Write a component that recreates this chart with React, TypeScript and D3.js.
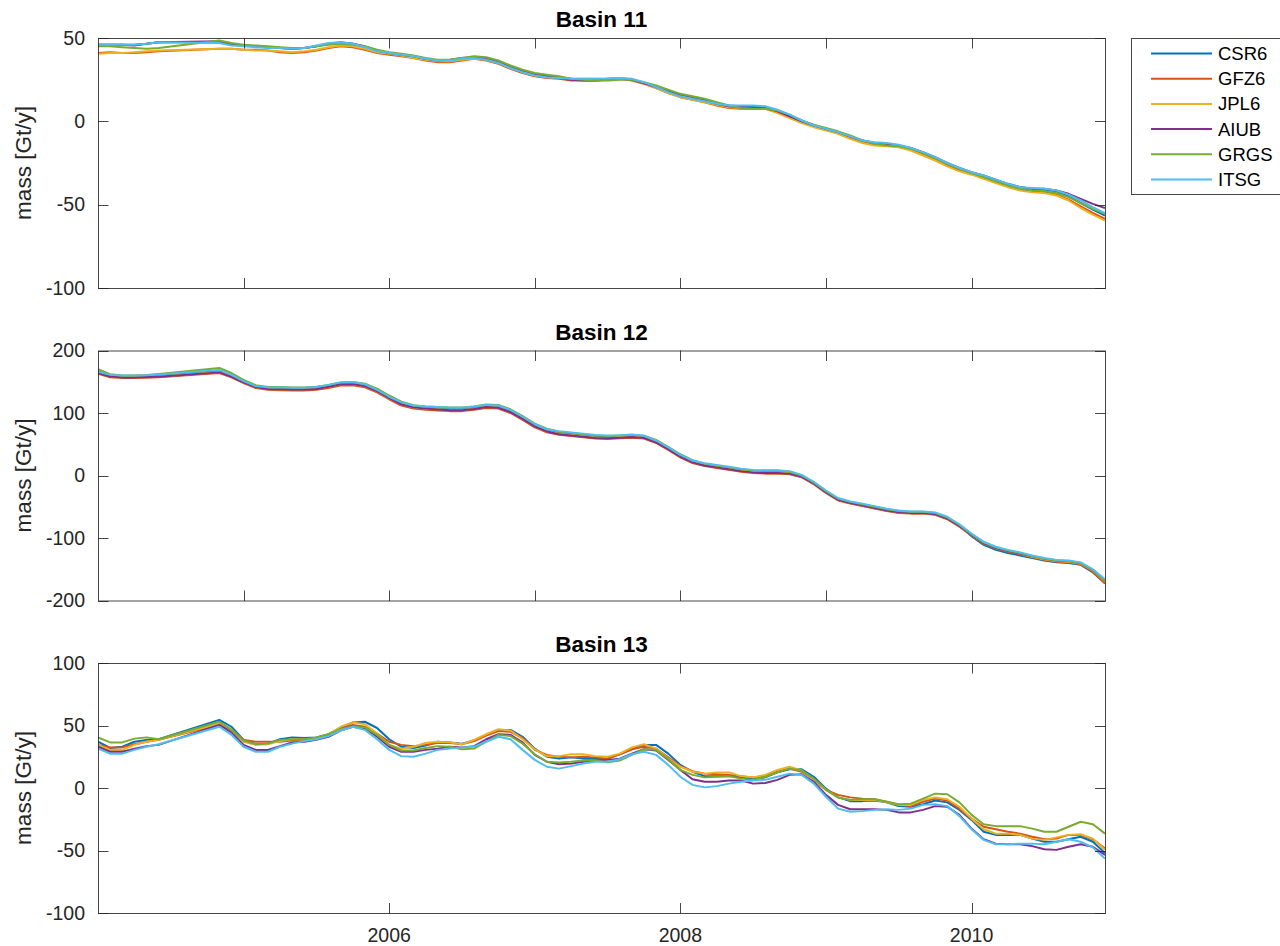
import React from "react";
import * as d3 from "d3";

// month offsets from Jan 2004 (months 6-9 of 2004 are missing)
const MONTHS = [0,1,2,3,4,5,10,11,12,13,14,15,16,17,18,19,20,21,22,23,24,25,26,27,28,29,30,31,32,33,34,35,36,37,38,39,40,41,42,43,44,45,46,47,48,49,50,51,52,53,54,55,56,57,58,59,60,61,62,63,64,65,66,67,68,69,70,71,72,73,74,75,76,77,78,79,80,81,82,83];

const SERIES_NAMES = ["CSR6", "GFZ6", "JPL6", "AIUB", "GRGS", "ITSG"];
const COLORS = ["#0072BD", "#D95319", "#EDB120", "#7E2F8E", "#77AC30", "#4DBEEE"];

// ---- Basin 11 ----
const B11_CSR6 = [46,46,46,46,46.5,47.5, 47.5,46,45.5,45,44.5,44,43.5,44,45,46.5, 47,46.5,44.5,42.5,41,40,39,37.5,36.5,36.5, 37.5,38.5,37.5,35.5,32.5,30,28,27,26.5,25.5, 25,25,25.5,26,25,23,20.5,18,15.5,14, 12.5,10.5,9.5,9,9,8.5,6.5,3.5,0.5,-2.5, -4.5,-6.5,-9,-11.5,-13,-13.5,-14.5,-16.5,-19,-22, -25.5,-28.5,-31,-33,-35.5,-38,-39.5,-40.5,-41,-42, -45,-49,-53,-56.5];
const B11_GFZ6 = [41,41.5,41,41,41.5,42, 43.5,43.5,43,43,42.5,41.5,41,41.5,42.5,44, 45,44.5,43,41,40,39,38,36.5,35.5,35.5, 36.5,37.5,36.5,34.5,31.5,29,27,26,25.5,24.5, 24.5,24.5,25,25.5,24.5,22.5,20,17,14.5,13, 11.5,9.5,8,7.5,7.5,7.5,5.5,2.5,-0.5,-3, -5,-7,-10,-12.5,-14,-14.5,-15,-17,-20,-23, -26.5,-29.5,-31.5,-34,-36.5,-39,-41,-42,-42.5,-44, -47,-51,-55,-58.5];
const B11_JPL6 = [40.5,41,41,41.5,42,42.5, 43.5,43.5,43,42.5,42.5,42,41.5,42,43,44.5, 45.5,45,43.5,41.5,40.5,39.5,38,37,36,36, 37,37.5,37,35,32,29.5,27.5,26.5,26,25.5, 25.5,25.5,25.5,26,25,23,20,17,14.5,13, 11.5,10,8.5,8,8,7.5,5,2,-1,-3.5, -5.5,-7.5,-10.5,-13,-14.5,-15,-15.5,-17.5,-20.5,-23.5, -27,-30,-32,-34.5,-37,-39.5,-41.5,-42.5,-43,-44.5, -47.5,-52,-56,-59.5];
const B11_AIUB = [46,46,46,45.5,46.5,47.5, 48,46.5,45.5,45,44.5,44,43.5,44,45,46.5, 47.5,46.5,45,42.5,41,40,39,37.5,36.5,37, 38,38.5,37.5,35.5,32.5,30,28,27,26,25, 24.5,24.5,25,25.5,25,23,20.5,18,15.5,14, 12.5,10.5,9,8.5,8,8,6,3,0,-2.5, -4.5,-6.5,-9,-11.5,-13,-13.5,-14.5,-16,-18.5,-21.5, -25,-28,-30.5,-32.5,-35,-37.5,-39.5,-40.5,-40.5,-41.5, -43.5,-46.5,-49.5,-52];
const B11_GRGS = [45,45,44.5,44,43.5,44, 48.5,47,46,45.5,45,44.5,44,44,45,46, 46.5,46,45,43,41.5,40.5,39.5,38,37,37, 38,39,38.5,36.5,33.5,31,29,28,27,25.5, 25,24.5,24.5,25,25,23.5,21.5,19,16.5,15, 13.5,11.5,9.5,8,7.5,7.5,6.5,4,0.5,-2, -4,-6,-8.5,-11.5,-13.5,-14.5,-15,-16.5,-19,-22, -25.5,-28.5,-31,-33.5,-36,-38.5,-40.5,-41.5,-42,-43, -45.5,-49,-52.5,-55.5];
const B11_ITSG = [46,46,46,46,46.5,47.5, 47,45.5,45,44.5,44,44,43.5,44,45.5,47, 47.5,46.5,44.5,42,41,40,39,37.5,36.5,36.5, 37.5,38,37,35,32,29.5,27.5,26.5,26,25.5, 25.5,25.5,25.5,26,25.5,23.5,20.5,17.5,15,13.5, 12,10.5,9.5,9.5,9.5,9,7,4,0.5,-2.5, -4.5,-6.5,-9,-11.5,-12.5,-13,-14,-16,-18.5,-21.5, -25,-28,-30.5,-32.5,-35,-37.5,-39.5,-40,-40.5,-41.5, -44,-47.5,-51.5,-55];

// ---- Basin 12 ----
const B12_CSR6 = [166,161,159,159,159.5,160, 167.5,160,151,143,140,140,140,140,141,144, 148,148.5,145,137,126,116,111,109,108,107, 107,109,112,111,104,93,81,73,69,67, 65,63,62,63,64,62,55,44,32,23, 18,15,12,9,7,6.5,6.5,5,-1,-12, -26,-38,-43,-47,-51,-55,-58,-59,-59,-61, -68,-80,-97,-111,-119,-124,-128,-132,-136,-139, -140,-143,-155,-172];
const B12_GFZ6 = [163,157,156,156,156.5,157, 164,157,148,140,137,136.5,136,136,137,140, 144,144.5,141,133,122,112,107,105,104,103, 103,105,108,107,100,89,77,69,65,63, 61,59,58.5,59.5,60.5,59,52,41,29,20, 15,12,9,6,4,3,3,2,-3,-14, -28,-40,-45,-49,-53,-57,-60,-61,-61,-63, -70,-82,-96,-109,-117,-122,-126,-131,-135,-138, -139,-142,-154,-173];
const B12_JPL6 = [165,159,157.5,157.5,158,158.5, 165.5,158.5,149.5,141.5,138.5,138,138,138,139,142, 146,146.5,143,135,124,114,109,107,106,105, 105,107,110,109,102,91,79,71,67,65, 63,61,60.5,61.5,62.5,60.5,54,43,31,22, 17,14,11,8,6,5,5,4,-2,-13, -27,-39,-44,-48,-52,-56,-59,-60,-60,-62, -69,-81,-95,-108,-116,-121,-125,-130,-134,-137, -138,-141,-152,-169];
const B12_AIUB = [164,158.5,157,157,157.5,158, 165,158,149,141.5,138.5,138,137.5,137.5,138.5,142, 146,146.5,143,135,124,114,109,107,105.5,104.5, 104.5,106.5,109.5,108.5,101.5,90.5,78.5,70.5,66,64, 62,60,59.5,60.5,61.5,60,53,42,30,21, 16,13,10,7,5,4,4,3,-2,-13, -27,-39,-44,-48,-52,-56,-59,-60,-60,-62, -69,-81,-95,-108,-116,-121,-125,-129,-133,-136, -137,-140,-151,-168];
const B12_GRGS = [170,162,160,160,161,162.5, 172,164,153,144.5,141.5,141.5,141,141,142,145, 149,149.5,147,139,128,118,112.5,110.5,109.5,109, 109,110.5,113.5,113,106,95,83,75,70,68, 66,64,63,64,65,63.5,57,46,34,24.5, 19,16,13,10,8,7.5,7.5,6,0,-11, -25,-37,-42,-46,-50,-54,-57,-58,-58,-60, -67,-79,-94,-107,-115,-120,-124,-129,-133,-136, -137,-140,-151,-169];
const B12_ITSG = [166,161,160,160,160.5,161.5, 169,161,151,143,141,141,140.5,140.5,141.5,145, 149,149.5,146,137,126,117,112,110.5,109.5,108.5, 108.5,110.5,113,112,105,94,82,74,71,69, 67,65,64,64.5,65.5,63.5,56,45,33,24, 19.5,17,14,11,9,8.5,8.5,7,1,-10, -24,-36,-41.5,-45,-49,-53,-56,-57.5,-57.5,-59, -66,-78,-93,-106,-114,-119,-123,-128,-132,-135, -136,-139,-150,-166];

// ---- Basin 13 ----
const B13_CSR6 = [37,32,33,37,38.5,39, 54.5,49,38.5,35,35.5,39,40.5,40,40.5,43, 48,52.5,53,48,39,33,32,34,37,36.5, 35.5,38,42.5,46,46.5,41,31.5,25,23.5,24.5, 23.5,23.5,23.5,27,31,34.5,34.5,27.5,18.5,13, 9.5,9.5,9.5,8.5,7,8.5,12.5,15,15,9, -0.5,-7.5,-10.5,-10.5,-10,-11.5,-14.5,-15,-13,-10, -11.5,-17.5,-25.5,-35,-37.5,-37.5,-37.5,-40.5,-43,-43, -41,-39,-43,-52];
const B13_GFZ6 = [34.5,32.5,32.5,35,37,38.5, 50.5,46.5,38.5,37,37,37,38,38.5,39.5,42, 47,50.5,49,43.5,37,34.5,33.5,34.5,36,36, 35,37.5,42,45.5,45,40,30.5,26.5,25,24.5, 25,24.5,23.5,27,31,33,31.5,24.5,17.5,13.5, 11.5,11,10.5,9.5,8.5,9.5,13,15.5,13,7, -1.5,-5.5,-7.5,-8.5,-9,-11,-13.5,-14.5,-11,-8.5, -10,-16.5,-24.5,-31,-33,-35,-36.5,-39,-41,-40.5, -37.5,-37.5,-41,-48.5];
const B13_JPL6 = [34.5,30.5,30.5,34.5,37,38.5, 51.5,47,37,34.5,35,37.5,39,39,39.5,43, 49,52.5,51,43.5,34.5,31.5,33,36,37,36.5, 35,38.5,43,47,46,39,31,25.5,25.5,27, 27,25.5,25,27.5,32.5,35,31.5,23.5,17,13, 11.5,12.5,12.5,9.5,8.5,10.5,14.5,17,14,7, -1.5,-7.5,-9.5,-9.5,-9.5,-11.5,-13.5,-13.5,-9.5,-7.5, -9,-15,-24.5,-33,-36.5,-36.5,-37.5,-40.5,-41.5,-39.5, -37.5,-37,-40.5,-49.5];
const B13_AIUB = [33,29,29,31.5,33.5,34.5, 50.5,44.5,34.5,30.5,30.5,33.5,36.5,37,38.5,41, 46,49,47.5,41,33,29,29,30.5,31.5,33, 32.5,33.5,39,43,42.5,36.5,26.5,21,19,19.5, 21,22,22.5,23.5,27.5,31,30,22.5,14.5,7, 5,5,6,6,3.5,4,6.5,10.5,11,5, -5.5,-13.5,-17,-17,-17,-17.5,-19.5,-19.5,-17.5,-14.5, -15,-21.5,-32.5,-41,-44.5,-45,-45,-46.5,-49,-49.5, -47,-45,-47,-53.5];
const B13_GRGS = [40.5,36.5,36.5,39.5,40.5,39, 53,46.5,38,35,35.5,38.5,39,39,40.5,43, 47,49,48.5,42.5,34.5,30,30,32,33.5,33, 31,31.5,37,42.5,41.5,35.5,27,21,20.5,21, 22,22,20.5,22,26.5,31,30.5,23,14.5,10.5, 8.5,9,9.5,7.5,6.5,9,12.5,15.5,14,7.5, -1.5,-7.5,-9.5,-9,-9,-11,-13,-12.5,-8.5,-4.5, -5,-11.5,-21.5,-29,-30.5,-30.5,-30.5,-32.5,-35,-35, -31,-27,-29,-36.5];
const B13_ITSG = [31.5,27.5,27.5,30.5,33,35, 49,42.5,33,29,29,33,35.5,37.5,39,41.5, 46,49,46.5,39,30.5,25.5,25,27.5,30.5,31.5, 32.5,33,37,41,39,30.5,22.5,17,15.5,17.5, 19.5,21,21,23,27,29,26.5,18.5,9,2.5, 0.5,1.5,3.5,5,6,6.5,9,11.5,10.5,3.5, -7,-16.5,-19,-18.5,-17.5,-17,-17.5,-16.5,-13.5,-13, -14.5,-22.5,-33,-41.5,-45,-45,-44.5,-44.5,-45,-43, -41,-43,-47.5,-56.5];

const TITLES = ["Basin 11", "Basin 12", "Basin 13"];
const Y_DOMAINS: [number, number][] = [[-100, 50], [-200, 200], [-100, 100]];
const Y_TICKS = [[-100, -50, 0, 50], [-200, -100, 0, 100, 200], [-100, -50, 0, 50, 100]];
const X_TICKS_YEARLY = [2005, 2006, 2007, 2008, 2009, 2010];
const X_TICKS_LABELED = [2006, 2008, 2010];
const Y_LABEL = "mass [Gt/y]";

const PANEL_SERIES = [
  [B11_CSR6, B11_GFZ6, B11_JPL6, B11_AIUB, B11_GRGS, B11_ITSG],
  [B12_CSR6, B12_GFZ6, B12_JPL6, B12_AIUB, B12_GRGS, B12_ITSG],
  [B13_CSR6, B13_GFZ6, B13_JPL6, B13_AIUB, B13_GRGS, B13_ITSG],
];

const FONT = "'Liberation Sans', Arial, Helvetica, sans-serif";
const AX = "#262626";

const LEFT = 98;
const RIGHT = 1105;
const TOPS = [38, 350.5, 663];
const PH = 250;

export default function App() {
  const x = d3.scaleLinear().domain([2004, 2004 + 83 / 12]).range([LEFT, RIGHT]);
  const years = MONTHS.map((m) => 2004 + m / 12);

  return (
    <svg
      width={1280}
      height={946}
      style={{ position: "absolute", left: 0, top: 0, background: "#fff" }}
      fontFamily={FONT}
    >
      <rect x={0} y={0} width={1280} height={946} fill="#fff" />
      {TITLES.map((title, p) => {
        const top = TOPS[p];
        const y = d3.scaleLinear().domain(Y_DOMAINS[p]).range([top + PH, top]);
        const line = d3
          .line<number>()
          .x((_, i) => x(years[i]))
          .y((v) => y(v));
        const xTicks = p === 2 ? X_TICKS_LABELED : X_TICKS_YEARLY;
        const clipId = `clip${p}`;
        return (
          <g key={title}>
            <defs>
              <clipPath id={clipId}>
                <rect x={LEFT} y={top} width={RIGHT - LEFT} height={PH} />
              </clipPath>
            </defs>
            <g clipPath={`url(#${clipId})`}>
              {PANEL_SERIES[p].map((vals, s) => (
                <path
                  key={s}
                  d={line(vals) || ""}
                  fill="none"
                  stroke={COLORS[s]}
                  strokeWidth={2}
                  strokeLinejoin="round"
                />
              ))}
            </g>
            {/* box */}
            <rect
              x={LEFT + 0.5}
              y={top + 0.5}
              width={RIGHT - LEFT}
              height={PH}
              fill="none"
              stroke={AX}
              strokeWidth={1}
              opacity={0.85}
            />
            {/* y ticks */}
            {Y_TICKS[p].map((t) => {
              const yy = Math.round(y(t)) + 0.5;
              return (
                <g key={"y" + t}>
                  <line x1={LEFT} x2={LEFT + 10.5} y1={yy} y2={yy} stroke={AX} opacity={0.85} />
                  <line x1={RIGHT - 10} x2={RIGHT + 0.5} y1={yy} y2={yy} stroke={AX} opacity={0.85} />
                  <text
                    x={LEFT - 13}
                    y={y(t)}
                    dy="0.35em"
                    textAnchor="end"
                    fontSize={19.5}
                    fill={AX}
                  >
                    {t}
                  </text>
                </g>
              );
            })}
            {/* x ticks */}
            {xTicks.map((t) => {
              const xx = Math.round(x(t)) + 0.5;
              return (
                <g key={"x" + t}>
                  <line x1={xx} x2={xx} y1={top + PH + 0.5} y2={top + PH - 10} stroke={AX} opacity={0.85} />
                  <line x1={xx} x2={xx} y1={top} y2={top + 10.5} stroke={AX} opacity={0.85} />
                  {p === 2 && (
                    <text x={x(t)} y={942} textAnchor="middle" fontSize={19.5} fill={AX}>
                      {t}
                    </text>
                  )}
                </g>
              );
            })}
            {/* title */}
            <text
              x={(LEFT + RIGHT) / 2}
              y={top - 11}
              textAnchor="middle"
              fontSize={22.5}
              fontWeight="bold"
              fill="#000"
            >
              {title}
            </text>
            {/* y label */}
            <text
              transform={`translate(31,${top + PH / 2}) rotate(-90)`}
              textAnchor="middle"
              fontSize={22.5}
              fill={AX}
            >
              {Y_LABEL}
            </text>
          </g>
        );
      })}
      {/* legend */}
      <g>
        <rect x={1131.5} y={38.5} width={149} height={156} fill="#fff" stroke={AX} strokeWidth={1} opacity={0.85} />
        {SERIES_NAMES.map((name, s) => {
          const yy = 53.5 + s * 25.2;
          return (
            <g key={name}>
              <line x1={1151} x2={1212} y1={yy} y2={yy} stroke={COLORS[s]} strokeWidth={2} />
              <text x={1218} y={yy} dy="0.35em" fontSize={18.5} fill="#000">
                {name}
              </text>
            </g>
          );
        })}
      </g>
    </svg>
  );
}
